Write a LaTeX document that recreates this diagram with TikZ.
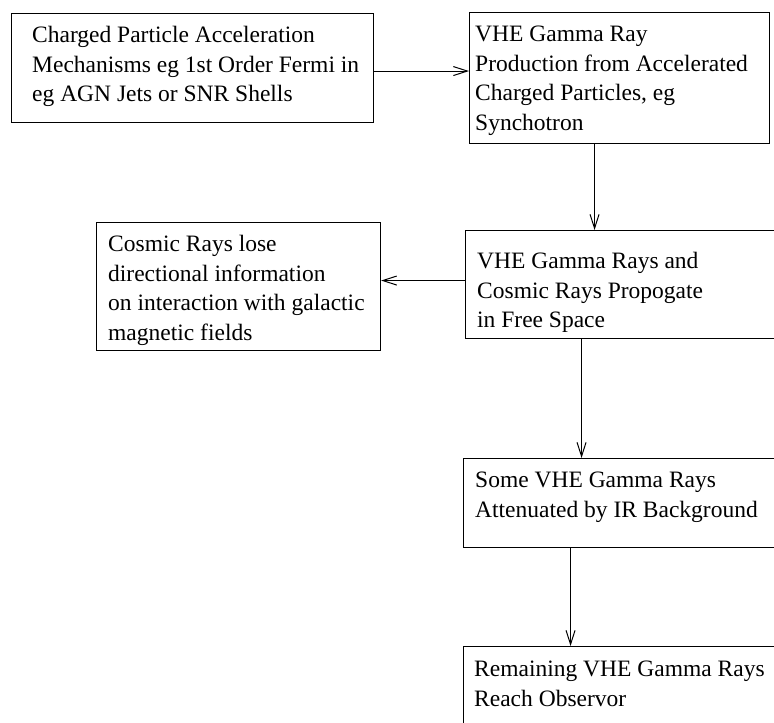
\documentclass[tikz,border=0pt]{standalone}
\usepackage{fontspec}
\setmainfont{Liberation Serif}
\usetikzlibrary{positioning,arrows.meta}
\tikzset{box/.style = {draw, line width=1.1pt, inner sep=0, anchor=north west}}
\tikzset{txt/.style = {inner sep=0, align=left, font=\fontsize{23.5}{29.5}\selectfont}}
\tikzset{flow/.style = {line width=1.1pt, -{Straight Barb[length=14pt,width=9pt,line width=1pt]}}}

\begin{document}
\begin{tikzpicture}[x=1pt,y=-1pt]
    % Page, the boxes on the right run off it
    \path[use as bounding box, clip] (0,0) rectangle (774,723);

    % Boxes
    \node[box, minimum width=362pt, minimum height=109pt] (accel) at (11,13) {};
    \node[box, minimum width=300pt, minimum height=131pt] (prod) at (469,12) {};
    \node[box, minimum width=284pt, minimum height=128pt] (cosmic) at (96,222) {};
    \node[box, minimum width=340pt, minimum height=108pt] (space) at (465,230) {};
    \node[box, minimum width=342pt, minimum height=89pt] (atten) at (463,458) {};
    \node[box, minimum width=342pt, minimum height=120pt] (reach) at (463,646) {};

    % Texts
    \node[txt, below right=13pt and 21pt of accel.north west] (accel text)
        {Charged Particle Acceleration\\Mechanisms eg 1st Order Fermi in\\eg AGN Jets or SNR Shells};
    \node[txt, below right=14pt and 6pt of prod.north west] (prod text)
        {VHE Gamma Ray\\Production from Accelerated\\Charged Particles, eg\\Synchotron};
    \node[txt, below right=13pt and 12pt of cosmic.north west] (cosmic text)
        {Cosmic Rays lose\\directional information\\on interaction with galactic\\magnetic fields};
    \node[txt, below right=22pt and 12pt of space.north west] (space text)
        {VHE Gamma Rays and\\Cosmic Rays Propogate\\in Free Space};
    \node[txt, below right=14pt and 12pt of atten.north west] (atten text)
        {Some VHE Gamma Rays\\Attenuated by IR Background};
    \node[txt, below right=15pt and 11pt of reach.north west] (reach text)
        {Remaining VHE Gamma Rays\\Reach Observor};

    % Arrows
    \draw[flow] ([yshift=-3pt]accel.east) -- ([yshift=-3pt]accel.east -| prod.west);
    \draw[flow] ([xshift=-25pt]prod.south) -- ([xshift=-25pt]prod.south |- space.north);
    \draw[flow] ([yshift=4pt]space.west) -- ([yshift=4pt]space.west -| cosmic.east);
    \draw[flow] ([xshift=-54pt]space.south) -- ([xshift=-54pt]space.south |- atten.north);
    \draw[flow] ([xshift=-64pt]atten.south) -- ([xshift=-64pt]atten.south |- reach.north);

\end{tikzpicture}
\end{document}
